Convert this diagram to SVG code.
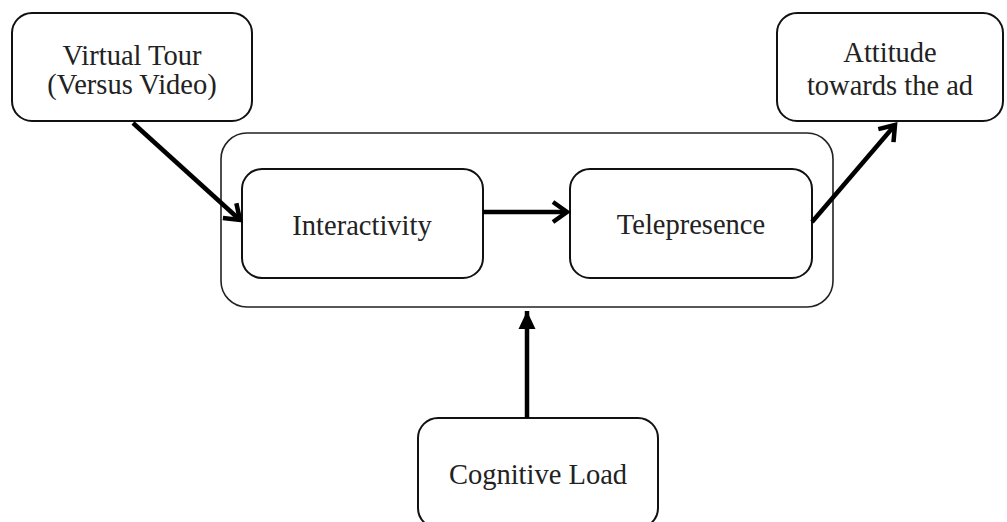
<svg xmlns="http://www.w3.org/2000/svg" width="1007" height="522" viewBox="0 0 1007 522">
<defs>
<style>
.box{fill:#fff;stroke:#111;stroke-width:2}
.outer{fill:none;stroke:#222;stroke-width:1.6}
.lbl{font-family:"Liberation Serif","Times New Roman",serif;font-size:28.5px;fill:#222;text-anchor:middle}
.arr{stroke:#000;stroke-width:4.5;fill:none}
</style>
<marker id="chev" markerUnits="userSpaceOnUse" markerWidth="30" markerHeight="30" viewBox="-20 -15 30 30" refX="0" refY="0" orient="auto">
<path d="M-14,-10 L0,0 L-14,10" fill="none" stroke="#000" stroke-width="4.5" stroke-linejoin="miter"/>
</marker>
<marker id="tri" markerUnits="userSpaceOnUse" markerWidth="30" markerHeight="30" viewBox="-20 -15 30 30" refX="0" refY="0" orient="auto">
<path d="M-18,-8.5 L0,0 L-18,8.5 Z" fill="#000"/>
</marker>
</defs>
<rect class="outer" x="221" y="133" width="612" height="174" rx="26"/>
<g id="virtual-tour">
<rect class="box" x="12" y="13" width="240" height="108" rx="20"/>
<text class="lbl" x="132" y="65">Virtual Tour</text>
<text class="lbl" x="132" y="94">(Versus Video)</text>
</g>
<g id="attitude">
<rect class="box" x="777" y="13" width="226" height="108" rx="20"/>
<text class="lbl" x="890" y="62">Attitude</text>
<text class="lbl" x="890" y="95">towards the ad</text>
</g>
<g id="interactivity">
<rect class="box" x="242" y="169" width="241" height="109" rx="20"/>
<text class="lbl" x="362" y="235">Interactivity</text>
</g>
<g id="telepresence">
<rect class="box" x="570" y="169" width="242" height="109" rx="20"/>
<text class="lbl" x="691" y="234">Telepresence</text>
</g>
<g id="cognitive-load">
<rect class="box" x="418" y="418" width="240" height="110" rx="20"/>
<text class="lbl" x="538" y="484">Cognitive Load</text>
</g>
<g id="connectors">
<line class="arr" x1="133" y1="123" x2="240" y2="220" marker-end="url(#chev)"/>
<line class="arr" x1="483" y1="212" x2="567" y2="212" marker-end="url(#chev)"/>
<line class="arr" x1="812" y1="222" x2="895" y2="125" marker-end="url(#chev)"/>
<line class="arr" x1="527" y1="418" x2="527" y2="311" marker-end="url(#tri)"/>
</g>
</svg>
